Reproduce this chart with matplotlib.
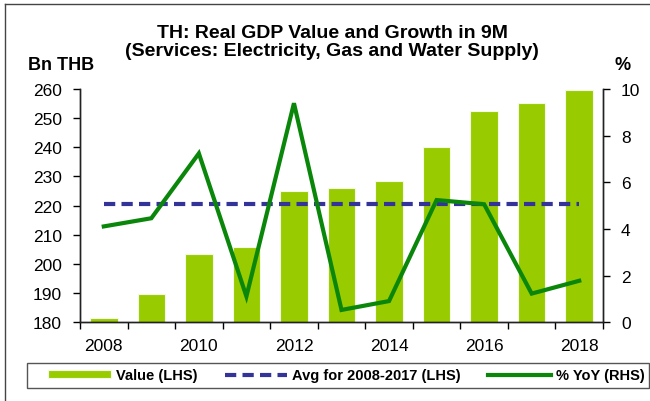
import numpy as np
import matplotlib
matplotlib.use("Agg")
import matplotlib.pyplot as plt
from matplotlib.lines import Line2D
from matplotlib.patches import Rectangle

plt.rcParams['font.family'] = ['Liberation Sans', 'DejaVu Sans']

years = [2008, 2009, 2010, 2011, 2012, 2013, 2014, 2015, 2016, 2017, 2018]
value_bn = [181.5, 189.7, 203.4, 205.7, 224.9, 226.0, 228.3, 240.2, 252.3, 255.3, 259.8]
yoy_pct = [4.11, 4.46, 7.24, 1.11, 9.39, 0.53, 0.91, 5.24, 5.06, 1.23, 1.78]
avg_0817 = np.mean(value_bn[:10])
year_labels = ["2008", "2010", "2012", "2014", "2016", "2018"]

bar_col = "#99cc00"
line_col = "#0a870a"
avg_col = "#333399"

fig = plt.figure(figsize=(6.5, 4.02), dpi=100)
ax = fig.add_axes([80 / 650, 1 - 323.3 / 402, 523 / 650, 233.3 / 402])
ax2 = ax.twinx()

x = np.arange(len(years))
bars = ax.bar(x, value_bn, width=0.58, color=bar_col, edgecolor="#f4f9e6",
              linewidth=0.8, label="Value (LHS)", zorder=2)
avg_line, = ax.plot([x[0], x[-1]], [avg_0817, avg_0817], color=avg_col, lw=3,
                    linestyle=(0, (2.7, 1.5)), label="Avg for 2008-2017 (LHS)", zorder=3)
yoy_line, = ax2.plot(x, yoy_pct, color=line_col, lw=3, label="% YoY (RHS)",
                     solid_joinstyle="miter", zorder=4)

ax.set_xlim(-0.5, len(years) - 0.5)
ax.set_ylim(180, 260)
ax.set_yticks(range(180, 261, 10))
ax2.set_ylim(0, 10)
ax2.set_yticks(range(0, 11, 2))

# labels on even years, tick marks between categories
ax.set_xticks(x[::2])
ax.set_xticklabels(year_labels)
ax.set_xticks(np.arange(-0.5, len(years), 1), minor=True)
ax.tick_params(axis="x", which="major", length=0, pad=11, labelsize=12.5)
ax.tick_params(axis="x", which="minor", length=5, width=1, direction="out")
ax.tick_params(axis="y", length=5, width=1, direction="out", pad=8, labelsize=12.5)
ax2.tick_params(axis="y", length=5, width=1, direction="out", pad=8, labelsize=12.5)

for a in (ax, ax2):
    a.spines["top"].set_visible(False)
    for s in ("left", "right", "bottom"):
        a.spines[s].set_color("#222222")
        a.spines[s].set_linewidth(1)

fig.text(332 / 650, 1 - 33 / 402, "TH: Real GDP Value and Growth in 9M", ha="center",
         va="center", fontsize=14, fontweight="bold")
fig.text(332 / 650, 1 - 52 / 402, "(Services: Electricity, Gas and Water Supply)", ha="center",
         va="center", fontsize=14, fontweight="bold")
fig.text(28 / 650, 1 - 66 / 402, "Bn THB", ha="left", va="center", fontsize=13, fontweight="bold")
fig.text(623 / 650, 1 - 66 / 402, "%", ha="center", va="center", fontsize=13, fontweight="bold")

# outer frame (only top and left edges show)
fig.add_artist(Line2D([5 / 650, 5 / 650], [0, 1 - 5 / 402], color="#444444", lw=1))
fig.add_artist(Line2D([5 / 650, 1], [1 - 5 / 402, 1 - 5 / 402], color="#444444", lw=1))

# legend box
fig.add_artist(Rectangle((27 / 650, 1 - 389 / 402), 622 / 650, 25 / 402,
                         transform=fig.transFigure, fill=False, edgecolor="#555555", lw=1))
fig.legend(handles=[bars, avg_line, yoy_line], loc="center", ncol=3, mode="expand",
           bbox_to_anchor=(48 / 650, 1 - 389 / 402, 597 / 650, 25 / 402),
           frameon=False, borderaxespad=0, borderpad=0, handlelength=4.3,
           handleheight=0.5, handletextpad=0.35,
           prop={"size": 10.5, "weight": "bold"})

fig.savefig("out.png", dpi=100)
